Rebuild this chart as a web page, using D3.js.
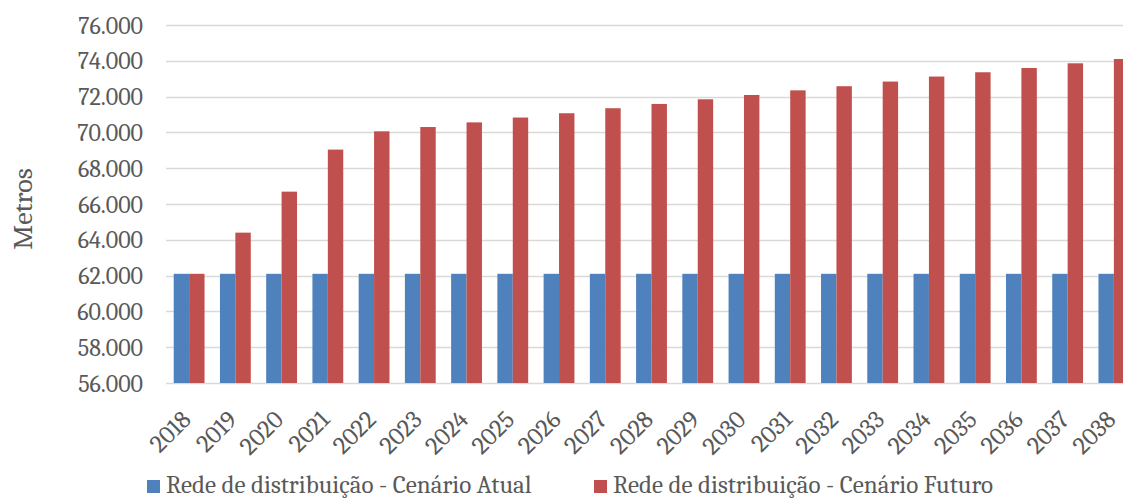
<!DOCTYPE html>
<html>
<head>
<meta charset="utf-8">
<script src="https://cdn.jsdelivr.net/npm/d3@7"></script>
<style>
  body { margin: 0; background: #fff; }
  text { font-family: Cambria, "DejaVu Serif", serif; fill: #595959; }
</style>
</head>
<body>
<div id="container"></div>
<script>
//anos e séries do gráfico
var years = ["2018","2019","2020","2021","2022","2023","2024","2025","2026","2027","2028",
             "2029","2030","2031","2032","2033","2034","2035","2036","2037","2038"];
var atual = [62100,62100,62100,62100,62100,62100,62100,62100,62100,62100,62100,
             62100,62100,62100,62100,62100,62100,62100,62100,62100,62100];
var futuro = [62100,64400,66690,69040,70060,70300,70560,70830,71070,71350,71590,
              71850,72090,72350,72580,72840,73120,73360,73600,73860,74100];
var seriesNames = ["Rede de distribuição - Cenário Atual", "Rede de distribuição - Cenário Futuro"];
var seriesColors = ["#4f81bd", "#c0504d"];
var yTicks = [56000,58000,60000,62000,64000,66000,68000,70000,72000,74000,76000];

(function(){
    var width = 1123, height = 498;
    var margin = {left: 166, top: 25, plotRight: 1137, bottom: 383};

    var svg = d3.select("#container").append("svg")
        .attr("width", width)
        .attr("height", height);

    var x = d3.scaleBand()
        .domain(years)
        .range([margin.left, margin.plotRight])
        .paddingInner(1/3)
        .paddingOuter(1/6);

    var x1 = d3.scaleBand()
        .domain([0, 1])
        .range([0, x.bandwidth()]);

    var y = d3.scaleLinear()
        .domain([56000, 76000])
        .range([margin.bottom, margin.top]);

    var fmt = function(d){ return d3.format(",")(d).replace(/,/g, "."); };

    //gridlines
    svg.append("g")
        .selectAll("line")
        .data(yTicks)
        .enter()
        .append("line")
        .attr("x1", margin.left)
        .attr("x2", margin.plotRight)
        .attr("y1", function(d){ return Math.round(y(d)) + 0.5; })
        .attr("y2", function(d){ return Math.round(y(d)) + 0.5; })
        .style("stroke", "#d9d9d9")
        .style("stroke-width", 1.5);

    //y tick labels
    svg.append("g")
        .selectAll("text")
        .data(yTicks)
        .enter()
        .append("text")
        .attr("x", 143)
        .attr("y", function(d){ return y(d); })
        .attr("dy", "0.36em")
        .attr("text-anchor", "end")
        .style("font-size", "24px")
        .text(fmt);

    //bars
    var data = years.map(function(yr, i){ return {year: yr, values: [atual[i], futuro[i]]}; });
    var groups = svg.append("g")
        .selectAll("g")
        .data(data)
        .enter()
        .append("g")
        .attr("transform", function(d){ return "translate(" + x(d.year) + ",0)"; });

    groups.selectAll("rect")
        .data(function(d){ return d.values.map(function(v, k){ return {k: k, v: v}; }); })
        .enter()
        .append("rect")
        .attr("x", function(d){ return x1(d.k); })
        .attr("width", x1.bandwidth())
        .attr("y", function(d){ return y(d.v); })
        .attr("height", function(d){ return y(56000) - y(d.v); })
        .style("fill", function(d){ return seriesColors[d.k]; });

    //x labels
    svg.append("g")
        .selectAll("text")
        .data(years)
        .enter()
        .append("text")
        .attr("transform", function(d){
            return "translate(" + (x(d) + x.bandwidth() / 2 - 3) + ",415) rotate(-45)";
        })
        .attr("text-anchor", "end")
        .attr("dy", "0.35em")
        .style("font-size", "25px")
        .text(function(d){ return d; });

    //axis title
    svg.append("text")
        .attr("transform", "translate(22,209) rotate(-90)")
        .attr("text-anchor", "middle")
        .attr("dy", "0.35em")
        .style("font-size", "28px")
        .text("Metros");

    //legend
    var legendX = [147, 594];
    var legend = svg.append("g")
        .selectAll("g")
        .data(seriesNames)
        .enter()
        .append("g")
        .attr("transform", function(d, i){ return "translate(" + legendX[i] + ",480)"; });

    legend.append("rect")
        .attr("width", 13)
        .attr("height", 13)
        .style("fill", function(d, i){ return seriesColors[i]; });

    legend.append("text")
        .attr("x", 19)
        .attr("y", 13)
        .style("font-size", "25px")
        .text(function(d){ return d; });
})();
</script>
</body>
</html>
